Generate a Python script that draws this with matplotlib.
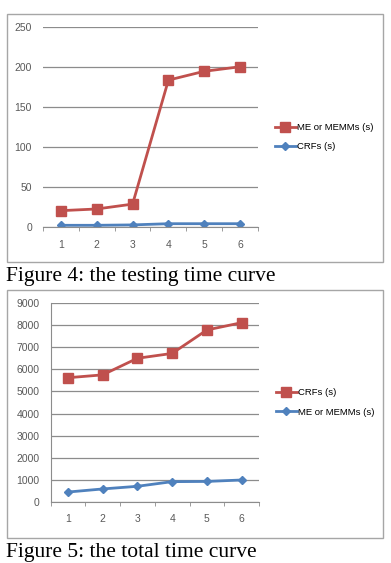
import numpy as np
import matplotlib.pyplot as plt
from matplotlib.patches import Rectangle

# data
runs = [1, 2, 3, 4, 5, 6]
test_me = [20.8, 22.9, 29, 184, 195, 200.7]
test_crf = [2.5, 2.5, 3, 4.5, 4.5, 4.5]
total_crf = [5620, 5750, 6500, 6720, 7780, 8110]
total_me = [450, 590, 710, 920, 930, 995]

red = '#C0504D'
blue = '#4F81BD'
grid = '#8C8C8C'
tick_col = '#595959'

W, H = 391, 563
fig = plt.figure(figsize=(W / 100, H / 100), dpi=100)


def px_axes(x0, y0, x1, y1):
    # pixel box (top-left origin) -> figure axes
    return fig.add_axes([x0 / W, 1 - y1 / H, (x1 - x0) / W, (y1 - y0) / H])


def chart_box(x0, y0, x1, y1):
    fig.patches.append(Rectangle((x0 / W, 1 - y1 / H), (x1 - x0) / W, (y1 - y0) / H,
                                 transform=fig.transFigure, fill=False,
                                 edgecolor='#A6A6A6', lw=1.0))


def draw(ax, series, ymax, ystep, left_spine):
    x = np.arange(len(runs))
    for vals, col, mk, ms, lab in series:
        ax.plot(x, vals, color=col, lw=2, marker=mk, ms=ms, label=lab)
    ax.set_xlim(-0.5, len(runs) - 0.5)
    ax.set_ylim(0, ymax)
    ax.set_yticks(np.arange(0, ymax + 1, ystep))
    ax.yaxis.grid(True, color=grid, lw=0.9)
    ax.set_axisbelow(True)
    ax.set_xticks(x)
    ax.set_xticklabels([str(r) for r in runs])
    ax.set_xticks(np.arange(-0.5, len(runs), 1), minor=True)
    ax.tick_params(axis='x', which='major', length=0, pad=9, labelsize=7.5, labelcolor=tick_col)
    ax.tick_params(axis='x', which='minor', length=3, color=grid, direction='out')
    ax.tick_params(axis='y', length=0, pad=8, labelsize=7.5, labelcolor=tick_col)
    for s in ['top', 'right']:
        ax.spines[s].set_visible(False)
    ax.spines['left'].set_visible(left_spine)
    ax.spines['left'].set_color(grid)
    ax.spines['bottom'].set_color(grid)
    for lab in ax.get_xticklabels() + ax.get_yticklabels():
        lab.set_family('Liberation Sans')


# Figure 4
chart_box(7, 14, 383, 262)
ax1 = px_axes(43, 27.3, 258, 227.3)
draw(ax1, [(test_me, red, 's', 6.5, 'ME or MEMMs (s)'),
           (test_crf, blue, 'D', 4, 'CRFs (s)')], 250, 50, False)
leg1 = ax1.legend(loc='center left', bbox_to_anchor=(1.04, 0.45), frameon=False,
                  handlelength=2.2, handletextpad=0.1, labelspacing=1.1,
                  prop={'family': 'Liberation Sans', 'size': 6.8})
fig.text(6 / W, 1 - 277 / H, 'Figure 4: the testing time curve', family='Liberation Serif',
         fontsize=15.5, va='center', ha='left')

# Figure 5
chart_box(7, 290, 383, 538)
ax2 = px_axes(50.5, 303, 259, 502)
draw(ax2, [(total_crf, red, 's', 6.5, 'CRFs (s)'),
           (total_me, blue, 'D', 4, 'ME or MEMMs (s)')], 9000, 1000, True)
leg2 = ax2.legend(loc='center left', bbox_to_anchor=(1.04, 0.5), frameon=False,
                  handlelength=2.2, handletextpad=0.1, labelspacing=1.1,
                  prop={'family': 'Liberation Sans', 'size': 6.8})
fig.text(6 / W, 1 - 552 / H, 'Figure 5: the total time curve', family='Liberation Serif',
         fontsize=15.5, va='center', ha='left')

fig.savefig('out.png', dpi=100)
